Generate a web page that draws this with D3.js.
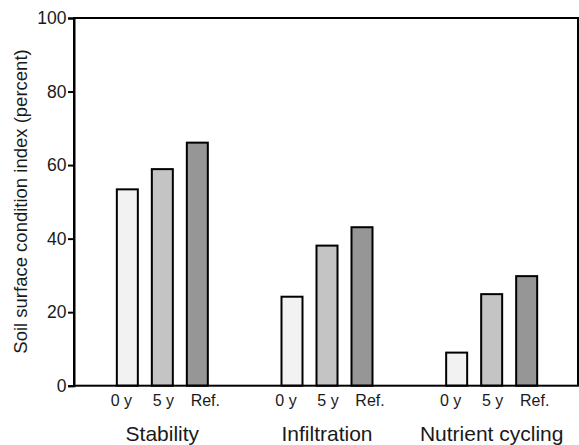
<!DOCTYPE html>
<html><head><meta charset="utf-8">
<script src="https://cdn.jsdelivr.net/npm/d3@7"></script>
<style>body{margin:0;background:#fff}svg{display:block}text{font-family:"Liberation Sans",Arial,sans-serif;fill:#1a1a1a}</style>
</head><body><svg id="c" width="579" height="445"></svg>
<script>
const groups = ["Stability", "Infiltration", "Nutrient cycling"];
const seriesNames = ["0 y", "5 y", "Ref."];
const v0y = [53.4, 24.2, 9.0];
const v5y = [58.9, 38.1, 24.9];
const vRef = [66.1, 43.1, 29.8];
const yTicks = [0, 20, 40, 60, 80, 100];
const colors = ["#f2f2f2", "#c4c4c4", "#969696"];

const seriesValues = [v0y, v5y, vRef];
const svg = d3.select("#c");
const L = 74, R = 578, T = 18, B = 385.7;
const y = d3.scaleLinear().domain([0, 100]).range([B, T]);
const x0 = d3.scaleBand().domain(groups).range([80, 574]).padding(0);
const x1 = d3.scaleBand().domain(seriesNames).range([-52.5, 52.5]).paddingInner(0.4).paddingOuter(0.2);
const xl = d3.scalePoint().domain(seriesNames).range([-41, 43]);

// bars
groups.forEach((g, gi) => {
  const cx = x0(g) + x0.bandwidth() / 2;
  seriesNames.forEach((s, si) => {
    const v = seriesValues[si][gi];
    svg.append("rect")
      .attr("x", cx + x1(s))
      .attr("y", y(v))
      .attr("width", x1.bandwidth())
      .attr("height", y(0) - y(v))
      .attr("fill", colors[si])
      .attr("stroke", "#000")
      .attr("stroke-width", 2);
    svg.append("text")
      .attr("x", cx + xl(s))
      .attr("y", 406)
      .attr("text-anchor", "middle")
      .attr("font-size", 16)
      .text(s);
  });
  svg.append("text")
    .attr("x", cx)
    .attr("y", 441)
    .attr("text-anchor", "middle")
    .attr("font-size", 21)
    .text(g);
});

// frame
svg.append("rect").attr("x", L).attr("y", T).attr("width", R - L).attr("height", B - T)
  .attr("fill", "none").attr("stroke", "#000").attr("stroke-width", 2);

// y axis
const ya = svg.append("g").attr("transform", `translate(${L},0)`)
  .call(d3.axisLeft(y).tickValues(yTicks).tickSize(6).tickPadding(1.5).tickFormat(d3.format("d")));
ya.select(".domain").attr("stroke-width", 2).attr("stroke", "#000");
ya.selectAll(".tick line").attr("stroke-width", 2).attr("stroke", "#000");
ya.selectAll("text").attr("font-size", 17.5).attr("font-family", "Liberation Sans, Arial, sans-serif").attr("fill", "#1a1a1a");

svg.append("text")
  .attr("transform", `translate(27,${(48 + 355) / 2}) rotate(-90)`)
  .attr("text-anchor", "middle")
  .attr("font-size", 18.5)
  .text("Soil surface condition index (percent)");
</script></body></html>
